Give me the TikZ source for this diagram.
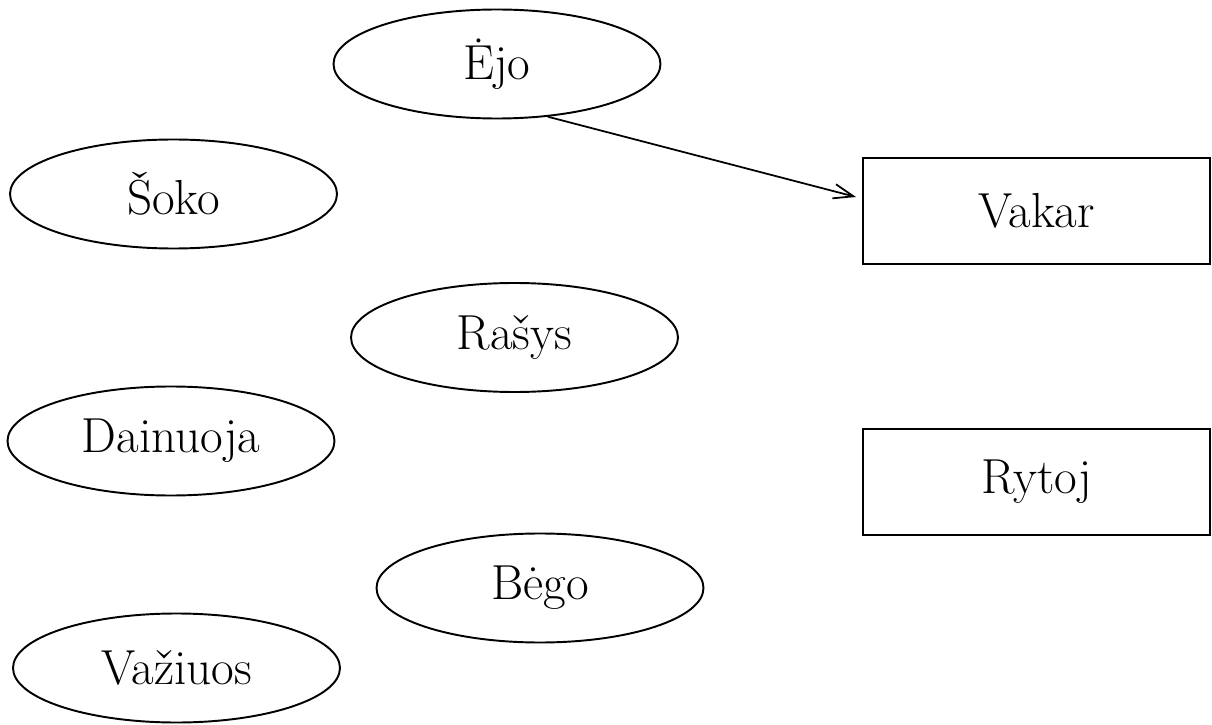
\documentclass[tikz,border=0pt]{standalone}
\usepackage{fontspec}
\usetikzlibrary{shapes.geometric,arrows.meta,calc}
\begin{document}
\begin{tikzpicture}[
  every node/.style={font=\fontsize{28}{33}\selectfont, line width=1.1pt, inner sep=0pt},
  ell/.style={draw, ellipse, minimum width=6.54cm, minimum height=2.18cm},
  box/.style={draw, rectangle, minimum width=6.94cm, minimum height=2.12cm},
  conn/.style={line width=1pt, -{Straight Barb[length=0.4cm,width=0.29cm,line width=1pt]}}
]
\useasboundingbox (0,0) rectangle (24.24,14.48);
\node[ell] (ejo) at (9.94,13.20) {Ėjo};
\node[ell] (soko) at (3.47,10.60) {Šoko};
\node[ell] (rasys) at (10.29,7.73) {Rašys};
\node[ell] (dainuoja) at (3.42,5.66) {Dainuoja};
\node[ell] (bego) at (10.80,2.72) {Bėgo};
\node[ell] (vaziuos) at (3.53,1.12) {Važiuos};
\node[box] (vakar) at (20.73,10.26) {Vakar};
\node[box] (rytoj) at (20.73,4.84) {Rytoj};
\coordinate (vakarin) at ($(vakar.west)+(-0.12,0.28)$);
\draw[conn] (ejo.-46.7) -- (vakarin);
\end{tikzpicture}
\end{document}
